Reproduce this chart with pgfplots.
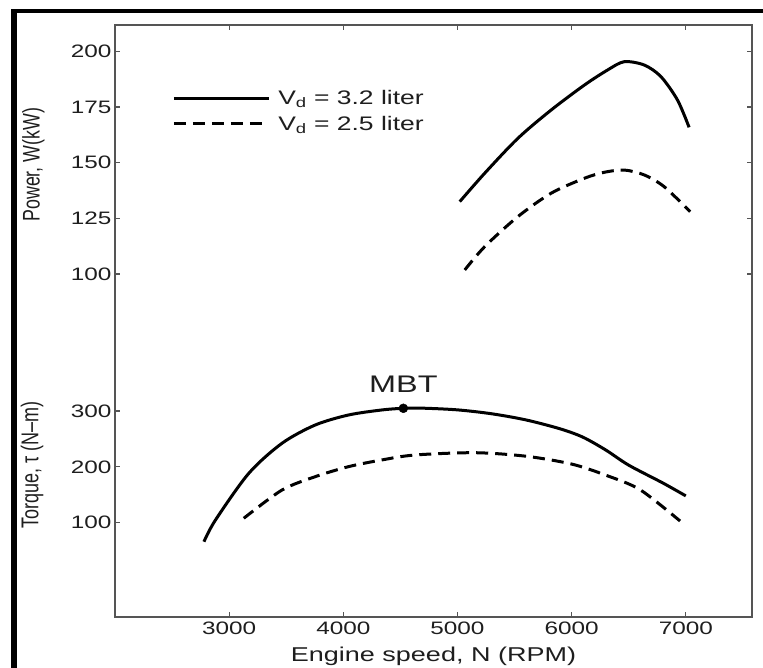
\documentclass[border=0pt]{standalone}
\usepackage{fontspec}
\setmainfont{Liberation Sans}[FakeStretch=1.35]
\newfontfamily\plainsans{Liberation Sans}
\usepackage{pgfplots}
\pgfplotsset{compat=1.18}
\definecolor{axgray}{HTML}{555555}
\definecolor{txt}{HTML}{1E1E1E}
\begin{document}
\begin{tikzpicture}[x=1pt,y=1pt]
\path[use as bounding box] (0,0) rectangle (763,668);
\fill[black] (11,0) rectangle (17,659);
\fill[black] (11,654.7) rectangle (763,658.7);
% Upper axis: power
\begin{axis}[
  at={(115pt,51pt)}, anchor=south west,
  scale only axis, width=637pt, height=592pt,
  xmin=2000, xmax=7580, ymin=-54.2, ymax=211.9,
  xtick={3000,4000,5000,6000,7000},
  ytick={100,125,150,175,200},
  tick align=inside, major tick length=5pt,
  axis line style={axgray, line width=1.3pt},
  every tick/.style={axgray, line width=1.2pt},
  /pgf/number format/1000 sep={},
  /pgf/number format/assume math mode=true,
  tick label style={font=\fontsize{18}{20}\selectfont, text=txt},
  xticklabel style={yshift=-1pt},
  xlabel={Engine speed, N (RPM)},
  xlabel style={font=\fontsize{20}{22}\selectfont, text=txt, yshift=-6pt},
  ylabel={\scalebox{1}[1.35]{\plainsans Power, W(kW)}},
  ylabel style={at={(axis description cs:-0.128,0.764)}, anchor=center, font=\fontsize{17.8}{19}\selectfont, text=txt},
  legend style={draw=none, fill=none, at={(axis description cs:0.085,0.897)}, anchor=north west,
    font=\fontsize{19.6}{21}\selectfont, text=txt, row sep=6pt, column sep=6pt},
  legend cell align=left,
  legend image code/.code={\draw[#1] (0pt,0pt) -- (95pt,0pt);},
]
\addplot[black, line width=3pt, smooth] coordinates {
(5020,132.5) (5239,145.3) (5530,161.0) (5821,173.7) (6112,184.9) (6316,191.7) (6461,195.4) (6636,193.9) (6782,188.7) (6927,178.2) (7029,165.9)};
\addlegendentry{V\textsubscript{d} = 3.2 liter}
\addplot[black, line width=3pt, smooth, dash pattern=on 12pt off 7pt] coordinates {
(5064,101.8) (5239,112.3) (5530,125.8) (5821,136.3) (6112,143.0) (6287,145.7) (6461,146.7) (6636,144.5) (6811,139.2) (7038,128.0)};
\addlegendentry{V\textsubscript{d} = 2.5 liter}
\end{axis}
% Lower axis: torque
\begin{axis}[
  at={(115pt,51pt)}, anchor=south west,
  scale only axis, width=637pt, height=592pt,
  xmin=2000, xmax=7580, ymin=-68.8, ymax=991,
  axis x line=none, axis y line*=left,
  ytick={100,200,300},
  tick align=inside, major tick length=5pt,
  axis line style={axgray, line width=1.3pt},
  every tick/.style={axgray, line width=1.2pt},
  /pgf/number format/assume math mode=true,
  tick label style={font=\fontsize{18}{20}\selectfont, text=txt},
  ylabel={\scalebox{1}[1.35]{\plainsans Torque, τ (N–m)}},
  ylabel style={at={(axis description cs:-0.13,0.257)}, anchor=center, font=\fontsize{18}{20}\selectfont, text=txt},
]
\addplot[black, line width=3pt, smooth] coordinates {
(2779,66) (2880,104.8) (3172,188.4) (3463,242.2) (3754,274.9) (4045,292.8) (4336,301.8) (4526,304.8) (4700,305) (5000,302) (5300,295) (5600,284) (5900,268) (6100,253) (6300,230) (6500,203) (6800,171) (7000,148)};
\addplot[black, line width=3pt, smooth, dash pattern=on 12pt off 7pt] coordinates {
(3128,107.9) (3463,158.5) (3754,182.4) (4045,200.3) (4336,212.3) (4627,221.2) (5151,225.3) (5600,219) (6000,205) (6300,185) (6600,159) (6950,103)};
\addplot[black, only marks, mark=*, mark size=4.5pt] coordinates {(4526,304.8)}
  node[above=12pt, font=\fontsize{24}{26}\selectfont, text=txt] {MBT};
\end{axis}
\end{tikzpicture}
\end{document}
